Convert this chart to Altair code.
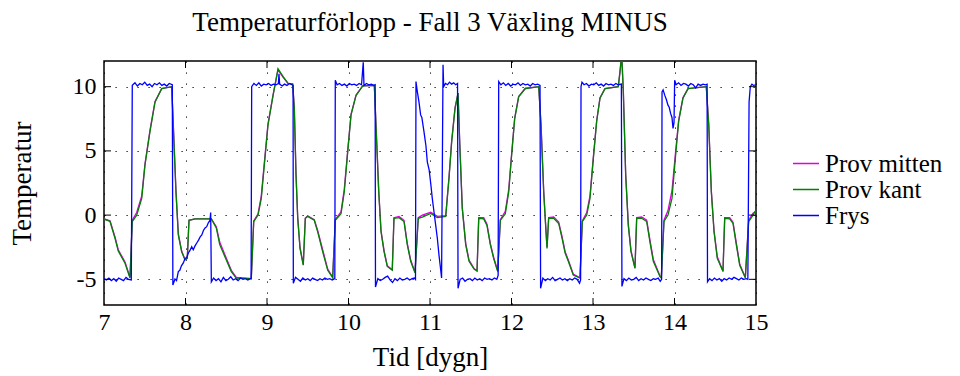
import altair as alt
import pandas as pd

# Temperature logs, (time in days, temperature) per sensor
kant = [
    (7.000, -0.30), (7.074, -0.50), (7.135, -1.80), (7.175, -2.80), (7.258, -3.75),
    (7.319, -4.90), (7.347, -0.50), (7.401, 0.00), (7.463, 1.30), (7.503, 3.90),
    (7.564, 6.50), (7.626, 8.80), (7.708, 9.85), (7.831, 10.00), (7.850, 7.00),
    (7.883, 1.80), (7.912, -1.56), (7.953, -2.85), (7.994, -3.50), (8.022, -3.37),
    (8.043, -0.40), (8.117, -0.30), (8.317, -0.30), (8.378, -1.00), (8.420, -2.30),
    (8.481, -3.20), (8.562, -4.40), (8.623, -4.90), (8.807, -4.95), (8.837, -0.50),
    (8.890, 0.00), (8.930, 1.30), (8.963, 3.60), (9.012, 7.00), (9.074, 9.30),
    (9.135, 11.40), (9.196, 10.80), (9.258, 10.25), (9.315, 10.20), (9.335, 8.30),
    (9.356, 3.10), (9.377, -0.25), (9.405, -2.60), (9.445, -3.90), (9.470, -0.25),
    (9.499, -0.10), (9.580, -0.40), (9.622, -1.30), (9.683, -2.85), (9.745, -4.30),
    (9.806, -4.87), (9.838, -0.40), (9.908, 0.10), (9.948, 1.80), (9.990, 4.90),
    (10.031, 7.80), (10.092, 9.30), (10.174, 10.07), (10.317, 10.10), (10.337, 7.00),
    (10.371, 1.80), (10.399, -1.30), (10.436, -2.85), (10.476, -4.00), (10.537, -4.30),
    (10.558, -0.25), (10.620, -0.20), (10.681, -0.50), (10.721, -2.30), (10.763, -3.60),
    (10.816, -4.50), (10.856, -0.25), (10.906, -0.15), (11.009, 0.13), (11.090, -0.20),
    (11.193, -0.10), (11.233, 2.85), (11.266, 5.70), (11.307, 8.30), (11.344, 9.50),
    (11.364, 5.70), (11.396, 0.50), (11.438, -2.30), (11.479, -3.60), (11.540, -4.20),
    (11.577, -4.36), (11.598, -0.25), (11.659, -0.30), (11.699, -0.80), (11.740, -2.30),
    (11.782, -3.40), (11.831, -4.40), (11.863, -0.40), (11.924, 0.10), (11.966, 1.80),
    (11.998, 4.40), (12.039, 7.50), (12.088, 9.20), (12.169, 9.86), (12.334, 10.00),
    (12.362, 7.00), (12.395, 1.80), (12.423, -1.30), (12.436, -2.60), (12.456, -0.25),
    (12.518, -0.25), (12.579, -0.65), (12.620, -1.80), (12.658, -2.95), (12.697, -3.60),
    (12.758, -4.67), (12.840, -4.90), (12.869, -0.50), (12.923, 0.00), (12.963, 1.30),
    (13.004, 4.40), (13.045, 7.30), (13.086, 9.10), (13.147, 9.85), (13.310, 10.00),
    (13.331, 11.20), (13.352, 12.60), (13.372, 9.60), (13.401, 3.10), (13.433, -0.80),
    (13.466, -2.85), (13.515, -4.15), (13.536, -0.25), (13.597, -0.25), (13.659, -0.50),
    (13.699, -2.10), (13.740, -3.60), (13.822, -4.80), (13.838, -4.90), (13.871, -0.50),
    (13.920, 0.00), (13.969, 1.30), (14.010, 4.40), (14.051, 7.30), (14.104, 9.10),
    (14.166, 9.85), (14.390, 10.00), (14.420, 7.00), (14.452, 1.80), (14.485, -1.30),
    (14.525, -3.37), (14.595, -4.40), (14.616, -0.25), (14.677, -0.30), (14.718, -0.65),
    (14.758, -2.30), (14.800, -3.90), (14.869, -4.87), (14.910, -0.50), (14.963, 0.00),
    (15.000, 0.40),
]

mitten = [
    (7.000, -0.30), (7.074, -0.45), (7.135, -1.70), (7.175, -2.70), (7.258, -3.65),
    (7.319, -4.85), (7.347, -0.40), (7.401, 0.20), (7.463, 1.50), (7.503, 4.00),
    (7.564, 6.60), (7.626, 8.85), (7.708, 9.85), (7.831, 10.00), (7.850, 7.10),
    (7.883, 1.90), (7.912, -1.45), (7.953, -2.80), (7.994, -3.45), (8.022, -3.35),
    (8.043, -0.40), (8.117, -0.30), (8.317, -0.30), (8.378, -0.90), (8.420, -2.10),
    (8.481, -3.05), (8.562, -4.30), (8.623, -4.85), (8.807, -4.95), (8.837, -0.45),
    (8.890, 0.10), (8.930, 1.50), (8.963, 3.80), (9.012, 7.10), (9.074, 9.35),
    (9.135, 11.30), (9.196, 10.75), (9.258, 10.25), (9.315, 10.20), (9.335, 8.40),
    (9.356, 3.20), (9.377, -0.20), (9.405, -2.50), (9.445, -3.85), (9.470, -0.25),
    (9.499, -0.05), (9.580, -0.35), (9.622, -1.20), (9.683, -2.70), (9.745, -4.20),
    (9.806, -4.85), (9.838, -0.35), (9.908, 0.25), (9.948, 2.00), (9.990, 5.00),
    (10.031, 7.85), (10.092, 9.35), (10.174, 10.07), (10.317, 10.10), (10.337, 7.10),
    (10.371, 1.90), (10.399, -1.20), (10.436, -2.75), (10.476, -3.95), (10.537, -4.25),
    (10.558, -0.20), (10.620, -0.10), (10.681, -0.40), (10.721, -2.20), (10.763, -3.50),
    (10.816, -4.45), (10.856, -0.20), (10.906, 0.00), (11.009, 0.22), (11.090, -0.10),
    (11.193, -0.05), (11.233, 2.95), (11.266, 5.80), (11.307, 8.35), (11.344, 9.50),
    (11.364, 5.80), (11.396, 0.60), (11.438, -2.20), (11.479, -3.50), (11.540, -4.15),
    (11.577, -4.33), (11.598, -0.20), (11.659, -0.20), (11.699, -0.70), (11.740, -2.20),
    (11.782, -3.30), (11.831, -4.35), (11.863, -0.35), (11.924, 0.30), (11.966, 2.00),
    (11.998, 4.50), (12.039, 7.55), (12.088, 9.25), (12.169, 9.86), (12.334, 10.00),
    (12.362, 7.10), (12.395, 1.90), (12.423, -1.20), (12.436, -2.50), (12.456, -0.20),
    (12.518, -0.15), (12.579, -0.55), (12.620, -1.65), (12.658, -2.85), (12.697, -3.50),
    (12.758, -4.60), (12.840, -4.88), (12.869, -0.45), (12.923, 0.20), (12.963, 1.50),
    (13.004, 4.50), (13.045, 7.35), (13.086, 9.15), (13.147, 9.85), (13.310, 10.00),
    (13.331, 11.10), (13.352, 12.40), (13.372, 9.70), (13.401, 3.20), (13.433, -0.70),
    (13.466, -2.75), (13.515, -4.10), (13.536, -0.20), (13.597, -0.15), (13.659, -0.40),
    (13.699, -1.95), (13.740, -3.45), (13.822, -4.75), (13.838, -4.88), (13.871, -0.40),
    (13.920, 0.35), (13.969, 1.90), (14.010, 4.70), (14.051, 7.40), (14.104, 9.15),
    (14.166, 9.85), (14.390, 10.00), (14.420, 7.10), (14.452, 1.90), (14.485, -1.20),
    (14.525, -3.25), (14.595, -4.35), (14.616, -0.20), (14.677, -0.20), (14.718, -0.55),
    (14.758, -2.15), (14.800, -3.80), (14.869, -4.85), (14.910, -0.40), (14.963, 0.15),
    (15.000, 0.30),
]

frys = [
    (7.000, -4.95), (7.030, -5.05), (7.060, -4.90), (7.090, -5.10), (7.120, -4.95),
    (7.150, -5.15), (7.180, -4.90), (7.210, -5.00), (7.240, -5.10), (7.270, -4.85),
    (7.300, -5.00), (7.335, -5.05),
    (7.347, 10.10), (7.380, 10.30), (7.410, 10.05), (7.440, 10.25), (7.470, 10.15),
    (7.500, 10.35), (7.530, 10.10), (7.560, 10.20), (7.590, 10.00), (7.620, 10.25),
    (7.650, 10.15), (7.680, 10.30), (7.710, 10.10), (7.740, 10.20), (7.770, 10.05),
    (7.800, 10.25), (7.838, 10.15),
    (7.845, -5.45), (7.871, -4.97), (7.890, -5.10), (7.912, -4.40), (7.930, -4.30),
    (7.950, -3.95), (7.975, -3.70), (7.994, -3.37), (8.015, -3.30), (8.035, -2.95),
    (8.055, -2.75), (8.076, -2.46), (8.095, -2.70), (8.117, -2.40), (8.140, -2.15),
    (8.160, -1.95), (8.180, -1.70), (8.200, -1.55), (8.220, -1.20), (8.240, -1.00),
    (8.260, -0.90), (8.280, -0.60), (8.300, -0.40), (8.309, 0.20),
    (8.317, -5.20), (8.345, -4.90), (8.375, -5.10), (8.405, -4.95), (8.435, -5.20),
    (8.465, -4.85), (8.495, -5.10), (8.525, -5.00), (8.555, -4.80), (8.585, -5.05),
    (8.615, -4.95), (8.645, -5.10), (8.675, -4.90), (8.705, -5.00), (8.735, -4.95),
    (8.765, -5.05), (8.795, -4.95), (8.805, -4.95),
    (8.812, 10.00), (8.840, 10.25), (8.870, 10.10), (8.900, 10.30), (8.930, 10.05),
    (8.960, 10.20), (8.990, 10.15), (9.020, 10.25), (9.050, 10.10), (9.080, 10.20),
    (9.110, 10.15), (9.140, 10.25), (9.147, 11.00), (9.155, 10.20), (9.185, 10.05),
    (9.215, 10.20), (9.245, 10.10), (9.275, 10.25), (9.305, 10.15), (9.320, 10.10),
    (9.323, -5.30), (9.350, -4.85), (9.380, -5.00), (9.410, -5.15), (9.440, -4.90),
    (9.470, -5.05), (9.500, -4.95), (9.530, -5.10), (9.560, -4.90), (9.590, -5.00),
    (9.620, -5.10), (9.650, -4.95), (9.680, -5.05), (9.710, -4.90), (9.740, -5.00),
    (9.770, -4.95), (9.800, -5.05), (9.832, -4.95),
    (9.838, 10.50), (9.860, 10.15), (9.890, 10.25), (9.920, 10.10), (9.950, 10.20),
    (9.980, 10.05), (10.010, 10.25), (10.040, 10.15), (10.070, 10.20), (10.100, 10.10),
    (10.130, 10.25), (10.160, 10.15), (10.181, 11.90), (10.190, 10.10), (10.220, 10.25),
    (10.250, 10.15), (10.280, 10.20), (10.310, 10.10), (10.327, 10.15),
    (10.331, -5.60), (10.360, -4.95), (10.390, -5.10), (10.420, -5.00), (10.450, -4.85),
    (10.480, -4.75), (10.510, -5.05), (10.540, -5.25), (10.570, -4.95), (10.600, -5.10),
    (10.630, -4.90), (10.660, -5.05), (10.690, -5.00), (10.720, -4.90), (10.750, -5.05),
    (10.780, -4.95), (10.810, -4.90), (10.822, -5.00),
    (10.828, 10.40), (10.845, 9.60), (10.865, 8.80), (10.885, 7.80), (10.900, 7.60),
    (10.926, 6.50), (10.950, 5.40), (10.967, 4.15), (10.990, 3.50), (11.010, 2.40),
    (11.028, 1.30), (11.050, 0.20), (11.070, -0.80), (11.090, -1.80), (11.110, -3.10),
    (11.130, -4.20), (11.142, -4.90),
    (11.160, 11.70), (11.168, 10.00), (11.190, 10.25), (11.215, 10.15), (11.240, 10.35),
    (11.265, 10.20), (11.290, 10.30), (11.315, 10.15), (11.338, 10.25),
    (11.344, -5.70), (11.370, -5.00), (11.400, -4.90), (11.430, -5.15), (11.460, -5.00),
    (11.490, -4.95), (11.520, -5.10), (11.550, -4.90), (11.580, -5.05), (11.610, -4.95),
    (11.640, -5.10), (11.670, -4.90), (11.700, -5.00), (11.730, -4.95), (11.760, -5.05),
    (11.790, -4.90), (11.820, -5.00), (11.836, -4.70),
    (11.843, 10.40), (11.870, 10.15), (11.900, 10.30), (11.930, 10.10), (11.960, 10.25),
    (11.990, 10.05), (12.020, 10.20), (12.050, 10.15), (12.080, 10.30), (12.110, 10.10),
    (12.140, 10.25), (12.170, 10.15), (12.200, 10.20), (12.230, 10.05), (12.260, 10.25),
    (12.290, 10.15), (12.320, 10.20), (12.350, 10.10),
    (12.357, -5.70), (12.385, -4.90), (12.415, -5.10), (12.445, -4.95), (12.475, -5.05),
    (12.505, -4.85), (12.535, -5.10), (12.565, -5.00), (12.595, -4.90), (12.625, -5.05),
    (12.655, -4.95), (12.685, -5.10), (12.715, -4.95), (12.745, -5.05), (12.775, -4.90),
    (12.805, -5.00), (12.835, -5.30), (12.848, -5.05),
    (12.853, 10.00), (12.865, 10.35), (12.890, 10.15), (12.920, 10.25), (12.950, 10.05),
    (12.980, 10.20), (13.010, 10.15), (13.040, 10.30), (13.070, 10.10), (13.100, 10.20),
    (13.130, 10.05), (13.160, 10.25), (13.190, 10.15), (13.220, 10.20), (13.250, 10.10),
    (13.280, 10.25), (13.310, 10.15), (13.348, 10.20),
    (13.355, -5.55), (13.380, -4.95), (13.410, -5.10), (13.440, -4.90), (13.470, -5.05),
    (13.500, -5.00), (13.530, -4.85), (13.560, -5.10), (13.590, -4.95), (13.620, -5.05),
    (13.650, -4.90), (13.680, -5.00), (13.710, -5.10), (13.740, -4.95), (13.770, -5.00),
    (13.800, -4.90), (13.825, -5.15), (13.842, -5.00),
    (13.847, 9.60), (13.860, 9.75), (13.880, 9.34), (13.900, 9.00), (13.920, 8.56),
    (13.935, 8.40), (13.953, 7.90), (13.969, 7.60), (13.982, 6.75), (13.994, 7.20),
    (14.002, 10.50), (14.020, 10.15), (14.050, 10.30), (14.080, 10.10), (14.110, 10.25),
    (14.140, 10.20), (14.170, 10.05), (14.200, 10.25), (14.230, 10.15), (14.260, 9.90),
    (14.290, 10.20), (14.320, 10.10), (14.350, 10.20), (14.380, 10.15), (14.400, 10.20),
    (14.405, -5.20), (14.430, -4.95), (14.460, -5.10), (14.490, -4.90), (14.520, -5.05),
    (14.550, -4.95), (14.580, -5.15), (14.610, -4.95), (14.640, -5.05), (14.670, -4.90),
    (14.700, -5.00), (14.730, -4.85), (14.760, -4.95), (14.790, -5.05), (14.820, -4.90),
    (14.850, -5.00), (14.880, -4.95), (14.900, -5.00),
    (14.915, 8.80), (14.930, 10.00), (14.950, 10.20), (14.970, 10.10), (15.000, 10.15),
]

series_names = ["Prov mitten", "Prov kant", "Frys"]
series_colors = ["#e000e0", "#008000", "#0000ff"]
x_ticks = [7, 8, 9, 10, 11, 12, 13, 14, 15]
y_ticks = [-5, 0, 5, 10]

FONT = "Liberation Serif"
W, H = 652, 244
TICK_LEN = 7

rows = []
for name, pts in zip(series_names, [mitten, kant, frys]):
    for t, v in pts:
        rows.append({"serie": name, "tid": t, "temp": v})
df = pd.DataFrame(rows)

x_scale = alt.Scale(domain=[7, 15], nice=False, zero=False)
y_scale = alt.Scale(domain=[-7, 12], nice=False, zero=False)

x_axis = alt.Axis(
    values=x_ticks, title="Tid [dygn]", grid=True, ticks=False, domain=False,
    labelPadding=5, titleX=W / 2, titleY=52, titleAlign="center", titleBaseline="middle",
)
y_axis = alt.Axis(
    values=y_ticks, title="Temperatur", grid=True, ticks=False, domain=False,
    labelPadding=8, labelExpr="'' + datum.value",
    titleX=-82, titleY=H / 2, titleAngle=270, titleAlign="center", titleBaseline="middle",
)

color = alt.Color(
    "serie:N",
    scale=alt.Scale(domain=series_names, range=series_colors),
    legend=alt.Legend(
        title=None, orient="none", legendX=688, legendY=90,
        symbolType="stroke", symbolSize=676, symbolStrokeWidth=1.3,
        labelFont=FONT, labelFontSize=25, labelOffset=5, rowPadding=0,
        clipHeight=25, labelColor="black",
    ),
)


def sensor_line(name):
    return (
        alt.Chart(df)
        .transform_filter(alt.datum.serie == name)
        .mark_line(strokeWidth=1.3, clip=True)
        .encode(
            x=alt.X("tid:Q", scale=x_scale, axis=x_axis),
            y=alt.Y("temp:Q", scale=y_scale, axis=y_axis),
            color=color,
        )
    )


xt = pd.DataFrame({"tid": x_ticks[1:-1]})
yt = pd.DataFrame({"temp": y_ticks})

tick_x = alt.X("tid:Q", scale=x_scale, axis=x_axis)
tick_y = alt.Y("temp:Q", scale=y_scale, axis=y_axis)

top_ticks = alt.Chart(xt).mark_rule(color="black").encode(
    x=tick_x, y=alt.value(0), y2=alt.value(TICK_LEN))
bottom_ticks = alt.Chart(xt).mark_rule(color="black").encode(
    x=tick_x, y=alt.value(H), y2=alt.value(H - TICK_LEN))
left_ticks = alt.Chart(yt).mark_rule(color="black").encode(
    y=tick_y, x=alt.value(0), x2=alt.value(TICK_LEN))
right_ticks = alt.Chart(yt).mark_rule(color="black").encode(
    y=tick_y, x=alt.value(W), x2=alt.value(W - TICK_LEN))

chart = (
    alt.layer(
        sensor_line("Prov mitten"),
        sensor_line("Prov kant"),
        sensor_line("Frys"),
        top_ticks, bottom_ticks, left_ticks, right_ticks,
    )
    .properties(
        width=W,
        height=H,
        title=alt.TitleParams(
            text="Temperaturförlopp - Fall 3 Växling MINUS",
            font=FONT, fontSize=27, fontWeight="normal", color="black",
            anchor="middle", frame="group", offset=3, baseline="alphabetic",
        ),
        autosize=alt.AutoSizeParams(type="none"),
        padding={"left": 104, "top": 61, "right": 204, "bottom": 71},
    )
    .configure_view(stroke="black", strokeWidth=1.5)
    .configure_axis(
        labelFont=FONT, labelFontSize=24, labelColor="black",
        titleFont=FONT, titleFontSize=27, titleFontWeight="normal", titleColor="black",
        gridColor="black", gridDash=[1.2, 9.8], gridWidth=1, gridOpacity=1,
        labelFlush=False,
    )
)

chart.save("out.html", embed_options={"renderer": "svg", "actions": False})
